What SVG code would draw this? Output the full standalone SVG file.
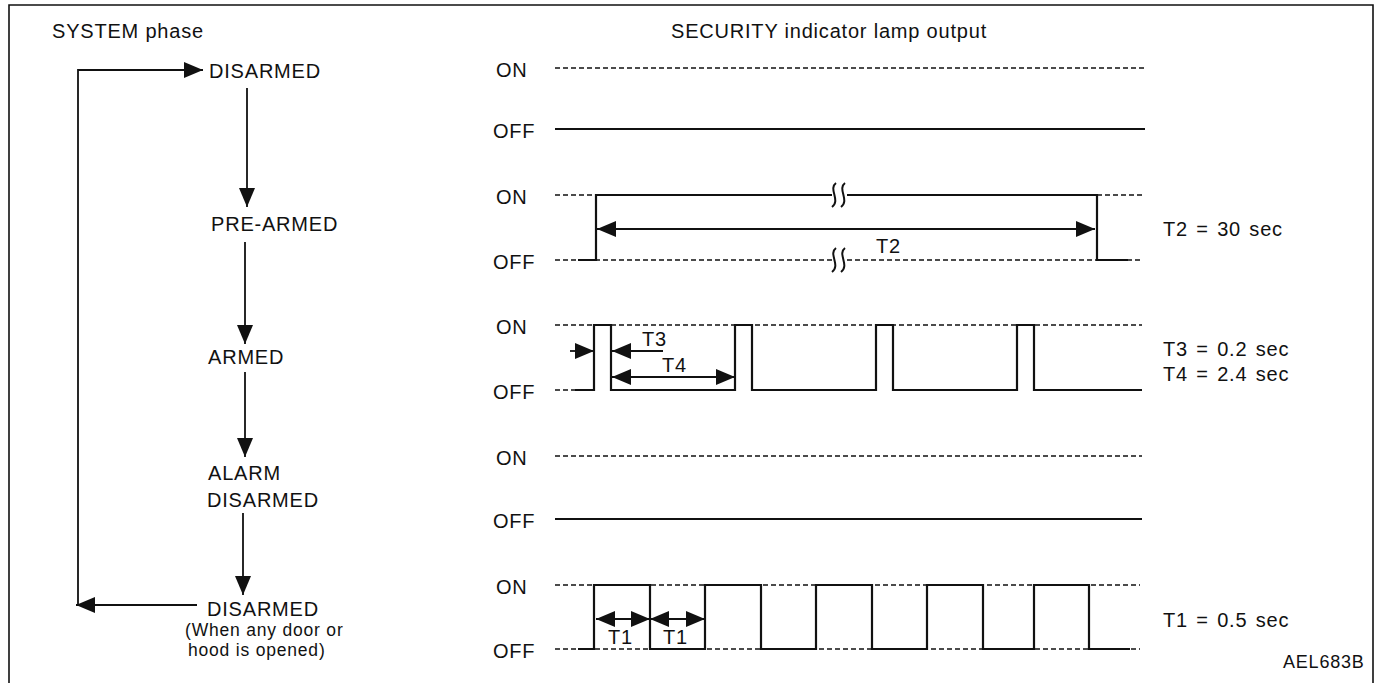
<svg xmlns="http://www.w3.org/2000/svg" width="1382" height="683" viewBox="0 0 1382 683">
<defs>
<style>
text{font-family:"Liberation Sans",Arial,Helvetica,sans-serif;font-size:20px;fill:#111;letter-spacing:0.8px}
.sm{font-size:17.5px}
.code{font-size:18px}
.val{word-spacing:2px}
.frame{fill:none;stroke:#111;stroke-width:1.6}
.ln{fill:none;stroke:#111;stroke-width:2}
.dash{fill:none;stroke:#111;stroke-width:1.3;stroke-dasharray:5 3}
.sig{fill:none;stroke:#111;stroke-width:2.2;stroke-linejoin:miter}
.arr{fill:none;stroke:#111;stroke-width:1.8;marker-end:url(#ah)}
.darr{fill:none;stroke:#111;stroke-width:1.8;marker-start:url(#ah);marker-end:url(#ah)}
.brk{fill:none;stroke:#111;stroke-width:2}
</style>
<marker id="ah" viewBox="0 0 19 16" refX="19" refY="8" markerWidth="19" markerHeight="16" markerUnits="userSpaceOnUse" orient="auto-start-reverse">
<path d="M0,0 L19,8 L0,16 z" fill="#111"/>
</marker>
</defs>
<rect width="1382" height="683" fill="#fff"/>
<g id="frame">
<path class="frame" d="M9,683 V5 H1373 V683"/>
</g>
<g id="titles">
<text x="52" y="38">SYSTEM phase</text>
<text x="671" y="38">SECURITY indicator lamp output</text>
</g>
<g id="phase-disarmed">
<text x="209" y="78">DISARMED</text>
</g>
<g id="phase-prearmed">
<text x="211" y="231">PRE-ARMED</text>
</g>
<g id="phase-armed">
<text x="208" y="364">ARMED</text>
</g>
<g id="phase-alarm-disarmed">
<text x="208" y="480">ALARM</text>
<text x="207" y="507">DISARMED</text>
</g>
<g id="phase-disarmed-door">
<text x="207" y="616">DISARMED</text>
<text class="sm" x="185" y="636">(When any door or</text>
<text class="sm" x="188" y="656">hood is opened)</text>
</g>
<g id="connectors">
<line class="arr" x1="247" y1="88" x2="247" y2="207"/>
<line class="arr" x1="245" y1="242" x2="245" y2="344"/>
<line class="arr" x1="245" y1="372" x2="245" y2="457"/>
<line class="arr" x1="243" y1="513" x2="243" y2="595"/>
<polyline class="ln" points="197,605 78,605 78,70 190,70" style="stroke-width:1.8"/>
<line class="arr" x1="150" y1="70" x2="203" y2="70"/>
<line class="arr" x1="120" y1="605" x2="76" y2="605"/>
</g>
<g id="row-disarmed">
<text x="496" y="77">ON</text>
<text x="493" y="138">OFF</text>
<line class="dash" x1="555" y1="68" x2="1145" y2="68"/>
<line class="ln" x1="555" y1="129" x2="1145" y2="129"/>
</g>
<g id="row-prearmed">
<text x="496" y="204">ON</text>
<text x="493" y="269">OFF</text>
<path class="dash" d="M555,195 H596 M1097,195 H1142"/>
<path class="dash" d="M555,260 H832 M847,260 H1142"/>
<path class="sig" d="M578,260 H596 V195 H832 M847,195 H1097 V260 H1128"/>
<path class="brk" d="M836,183 C828,189 841,200 832,207 M845,183 C837,189 850,200 841,207"/>
<path class="brk" d="M836,248 C828,254 841,265 832,272 M845,248 C837,254 850,265 841,272"/>
<line class="darr" x1="597" y1="229" x2="1095" y2="229"/>
<text x="876" y="253">T2</text>
<text class="val" x="1163" y="236">T2 = 30 sec</text>
</g>
<g id="row-armed">
<text x="496" y="334">ON</text>
<text x="493" y="399">OFF</text>
<line class="dash" x1="555" y1="325" x2="1142" y2="325"/>
<line class="dash" x1="555" y1="390" x2="576" y2="390"/>
<path class="sig" d="M575,390 H594 V325 H611 V390 H735 V325 H752 V390 H876 V325 H893 V390 H1017 V325 H1034 V390 H1142"/>
<line class="arr" x1="570" y1="351" x2="594" y2="351"/>
<line class="arr" x1="663" y1="351" x2="612" y2="351"/>
<text x="642" y="346">T3</text>
<line class="darr" x1="612" y1="377" x2="735" y2="377"/>
<text x="662" y="372">T4</text>
<text class="val" x="1163" y="356">T3 = 0.2 sec</text>
<text class="val" x="1163" y="381">T4 = 2.4 sec</text>
</g>
<g id="row-alarm-disarmed">
<text x="496" y="465">ON</text>
<text x="493" y="528">OFF</text>
<line class="dash" x1="555" y1="456" x2="1142" y2="456"/>
<line class="ln" x1="555" y1="519" x2="1142" y2="519"/>
</g>
<g id="row-disarmed-door">
<text x="496" y="594">ON</text>
<text x="493" y="658">OFF</text>
<line class="dash" x1="555" y1="585" x2="1140" y2="585"/>
<line class="dash" x1="555" y1="649" x2="1140" y2="649"/>
<path class="sig" d="M578,649 H594 V585 H650 V649 H705 V585 H761 V649 H816 V585 H872 V649 H927 V585 H983 V649 H1034 V585 H1089 V649 H1130"/>
<line class="darr" x1="596" y1="619" x2="650" y2="619"/>
<line class="darr" x1="650" y1="619" x2="705" y2="619"/>
<text x="608" y="644">T1</text>
<text x="663" y="644">T1</text>
<text class="val" x="1163" y="627">T1 = 0.5 sec</text>
</g>
<g id="figure-code">
<text class="code" x="1283" y="668">AEL683B</text>
</g>
</svg>
